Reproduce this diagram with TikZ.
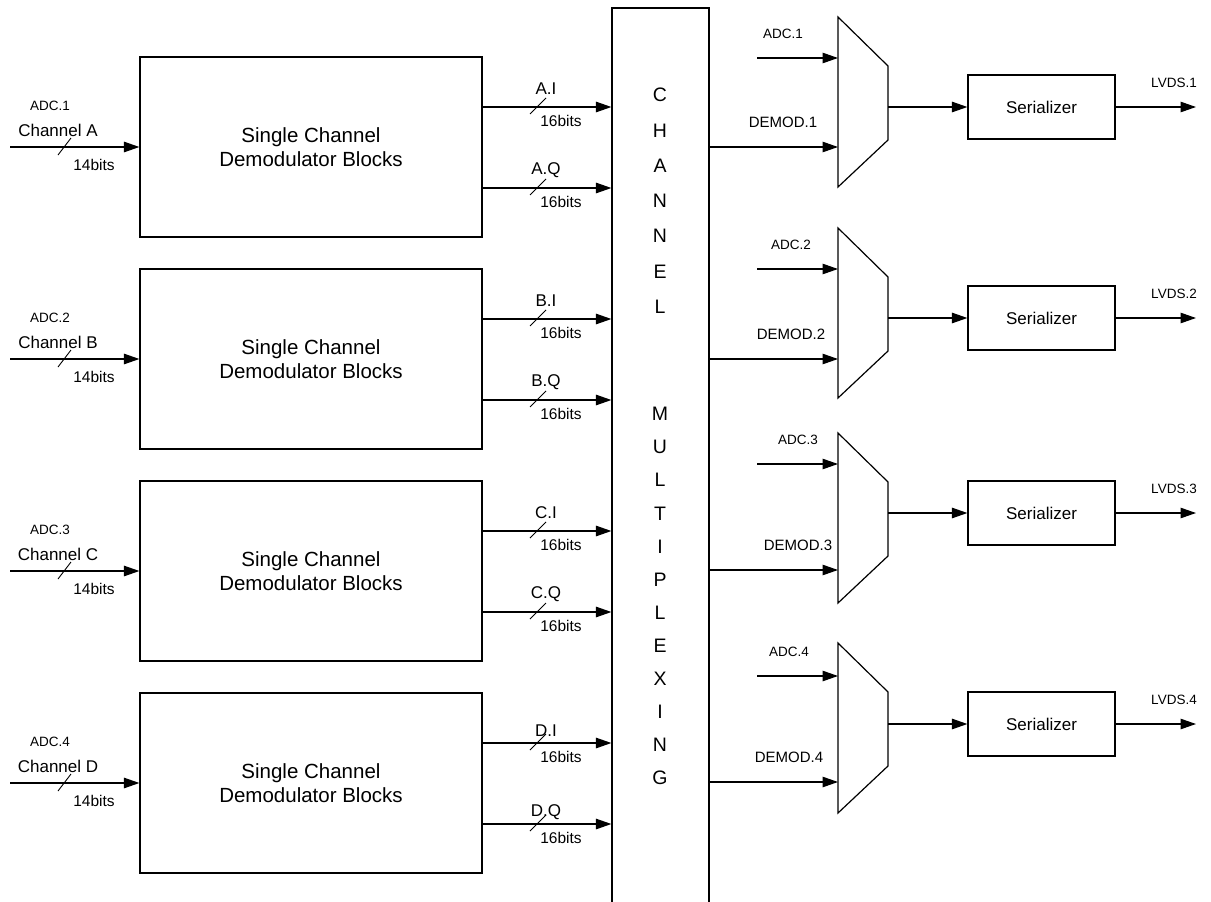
\documentclass[tikz,border=0pt]{standalone}
\usepackage{fontspec}
\setmainfont{Liberation Sans}
\usetikzlibrary{arrows.meta, calc}
\tikzset{
  sig/.style={-{Triangle[length=15.5pt, width=10.5pt]}},
  bus/.style={line width=0.9pt},
  demod/.style={draw, minimum width=342pt, minimum height=180pt, align=center, font=\fontsize{20.5}{24}\selectfont},
  serbox/.style={draw, minimum width=147pt, minimum height=64pt, font=\fontsize{17}{20}\selectfont},
  muxlt/.style={inner sep=0pt, font=\fontsize{19.5}{22}\selectfont},
  chlbl/.style={inner sep=0pt, font=\fontsize{17}{20}\selectfont},
  iqlbl/.style={inner sep=0pt, font=\fontsize{17}{20}\selectfont},
  bitlbl/.style={inner sep=0pt, font=\fontsize{15.5}{18}\selectfont},
  adclbl/.style={inner sep=0pt, font=\fontsize{13.5}{16}\selectfont},
  demlbl/.style={inner sep=0pt, font=\fontsize{15}{18}\selectfont}
}

\begin{document}
\begin{tikzpicture}[x=1pt, y=-1pt, line width=1.2pt]
        \useasboundingbox (0,0) rectangle (1211,902);

        % Channel multiplexing column
        \node[draw, inner sep=0pt, minimum width=97pt, minimum height=910pt] (chmux) at (660.5,463) {};
        \foreach \l [count=\k] in {C,H,A,N,N,E,L}
            \node[muxlt] (cl\k) at (660, {95+35.3*(\k-1)}) {\l};
        \foreach \l [count=\k] in {M,U,L,T,I,P,L,E,X,I,N,G}
            \node[muxlt] (ml\k) at (660, {414+33.1*(\k-1)}) {\l};

        % Demodulator blocks with input and I/Q outputs
        \foreach \n/\ch/\t/\dl in {1/A/57/18, 2/B/269/18, 3/C/481/18, 4/D/693/12} {
            \node[demod] (dm\ch) at (311,\t+90) {Single Channel\\Demodulator Blocks};
            \coordinate (in\ch) at (10,\t+90);
            \draw[sig] (in\ch) -- (dm\ch.west);
            \draw[bus] ($(in\ch)+(48,8)$) -- ++(13,-17);
            \node[adclbl] (adc\ch) at (50,\t+49) {ADC.\n};
            \node[chlbl] (cn\ch) at (58,\t+73) {Channel \ch};
            \node[bitlbl] (ib\ch) at (94,\t+108) {14bits};
            \foreach \q/\dy in {I/50, Q/131} {
                \coordinate (\ch\q) at (482,\t+\dy);
                \draw[sig] (\ch\q) -- (\ch\q -| chmux.west);
                \draw[bus] ($(\ch\q)+(48,7)$) -- ++(16,-16);
                \node[iqlbl] (lb\ch\q) at ($(\ch\q)+(64,-\dl)$) {\ch.\q};
                \node[bitlbl] (ob\ch\q) at ($(\ch\q)+(79,14)$) {16bits};
            }
        }

        % Output muxes and serializers
        \foreach \n/\T/\a/\o/\d/\lx in {1/17/58/107/147/783, 2/228/269/318/359/791, 3/433/464/513/570/798, 4/643/676/724/782/789} {
            \draw (838,\T) coordinate (mx\n) -- (888,\T+49) -- (888,\T+123) -- (838,\T+170) -- cycle;
            \coordinate (ain\n) at (757,\a);
            \coordinate (dy\n) at (0,\d);
            \coordinate (mo\n) at (888,\o);
            \coordinate (lv\n) at (1196,\o);
            \node[serbox] (ser\n) at (1041.5,\o) {Serializer};
            \draw[sig] (ain\n) -- (ain\n -| mx\n);
            \draw[sig] (chmux.east |- dy\n) -- (mx\n |- dy\n);
            \draw[sig] (mo\n) -- (ser\n.west);
            \draw[sig] (ser\n.east) -- (lv\n);
            \node[adclbl] (al\n) at (\lx,\a-24) {ADC.\n};
            \node[demlbl] (dl\n) at (\lx,\d-25) {DEMOD.\n};
            \node[adclbl] (ll\n) at (1174,\o-24) {LVDS.\n};
        }
    \end{tikzpicture}
\end{document}
